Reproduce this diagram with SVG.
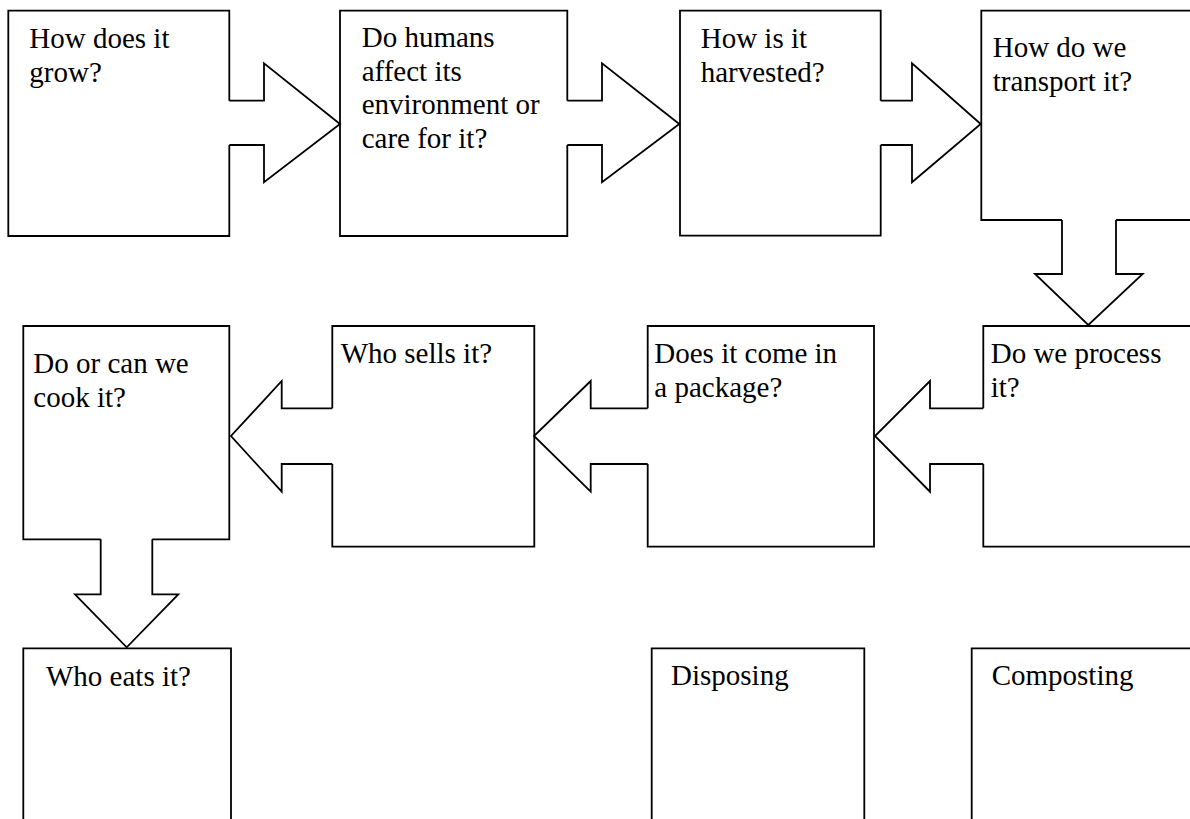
<svg xmlns="http://www.w3.org/2000/svg" width="1190" height="819" viewBox="0 0 1190 819">
<style>
.o{fill:none;stroke:#000;stroke-width:1.8;stroke-linejoin:miter}
.t{font-family:"Liberation Serif","Times New Roman",serif;font-size:29px;fill:#000}
</style>
<rect width="1190" height="819" fill="#fff"/>
<g id="n1"><path class="o" d="M229.3,100.7 V10.7 H8.3 V236 H229.3 V145"/><text class="t" x="29.3" y="48.3">How does it</text><text class="t" x="29.3" y="81.7">grow?</text></g>
<g id="n2"><path class="o" d="M567.3,100.7 V10.7 H340 V236 H567.3 V145"/><text class="t" x="361.7" y="46.7">Do humans</text><text class="t" x="361.7" y="80.5">affect its</text><text class="t" x="361.7" y="114.3">environment or</text><text class="t" x="361.7" y="148.1">care for it?</text></g>
<g id="n3"><path class="o" d="M880.7,100.7 V10.7 H680 V235.7 H880.7 V145"/><text class="t" x="700.7" y="47.7">How is it</text><text class="t" x="700.7" y="81.5">harvested?</text></g>
<g id="n4"><path class="o" d="M1062,220 H981.3 V10.7 H1195 M1116,220 H1195"/><text class="t" x="992.7" y="57.3">How do we</text><text class="t" x="992.7" y="91">transport it?</text></g>
<g id="n5"><path class="o" d="M983.3,408.3 V326 H1195 M983.3,464 V546.7 H1195"/><text class="t" x="990.7" y="362.7">Do we process</text><text class="t" x="990.7" y="396.5">it?</text></g>
<g id="n6"><path class="o" d="M647.7,408.3 V326 H874 V546.7 H647.7 V464"/><text class="t" x="654.3" y="362.7">Does it come in</text><text class="t" x="654.3" y="396.5">a package?</text></g>
<g id="n7"><path class="o" d="M332.3,408.3 V326 H534.3 V546.7 H332.3 V464"/><text class="t" x="340.7" y="362.7">Who sells it?</text></g>
<g id="n8"><path class="o" d="M100.7,539.3 H23.3 V326 H229.3 V539.3 H152.3"/><text class="t" x="33.3" y="372.7">Do or can we</text><text class="t" x="33.3" y="406.5">cook it?</text></g>
<g id="n9"><path class="o" d="M23.3,825 V648.3 H231 V825"/><text class="t" x="46" y="686">Who eats it?</text></g>
<g id="n10"><path class="o" d="M651.7,825 V648.3 H864.3 V825"/><text class="t" x="671" y="685">Disposing</text></g>
<g id="n11"><path class="o" d="M971.7,825 V648.3 H1195"/><text class="t" x="991.7" y="685">Composting</text></g>
<g id="connectors">
<path class="o" d="M229.3,100.7 H264 V63.3 L340,124 L264,182.3 V145 H229.3"/>
<path class="o" d="M567.3,100.7 H602 V63.3 L679.3,124 L602,182.3 V145 H567.3"/>
<path class="o" d="M880.7,100.7 H912 V63.3 L980.7,124 L912,182.3 V145 H880.7"/>
<path class="o" d="M1062,220 V274 H1035 L1088.3,325 L1142.7,274 H1116 V220"/>
<path class="o" d="M983.3,408.3 H930 V381 L875,436 L930,491.7 V464 H983.3"/>
<path class="o" d="M647.7,408.3 H590.7 V381 L534,436 L590.7,491.7 V464 H647.7"/>
<path class="o" d="M332.3,408.3 H281.7 V381 L231,436 L281.7,491.7 V464 H332.3"/>
<path class="o" d="M100.7,539.3 V594.3 H75 L126.7,647.3 L178.3,594.3 H152.3 V539.3"/>
</g>
</svg>
